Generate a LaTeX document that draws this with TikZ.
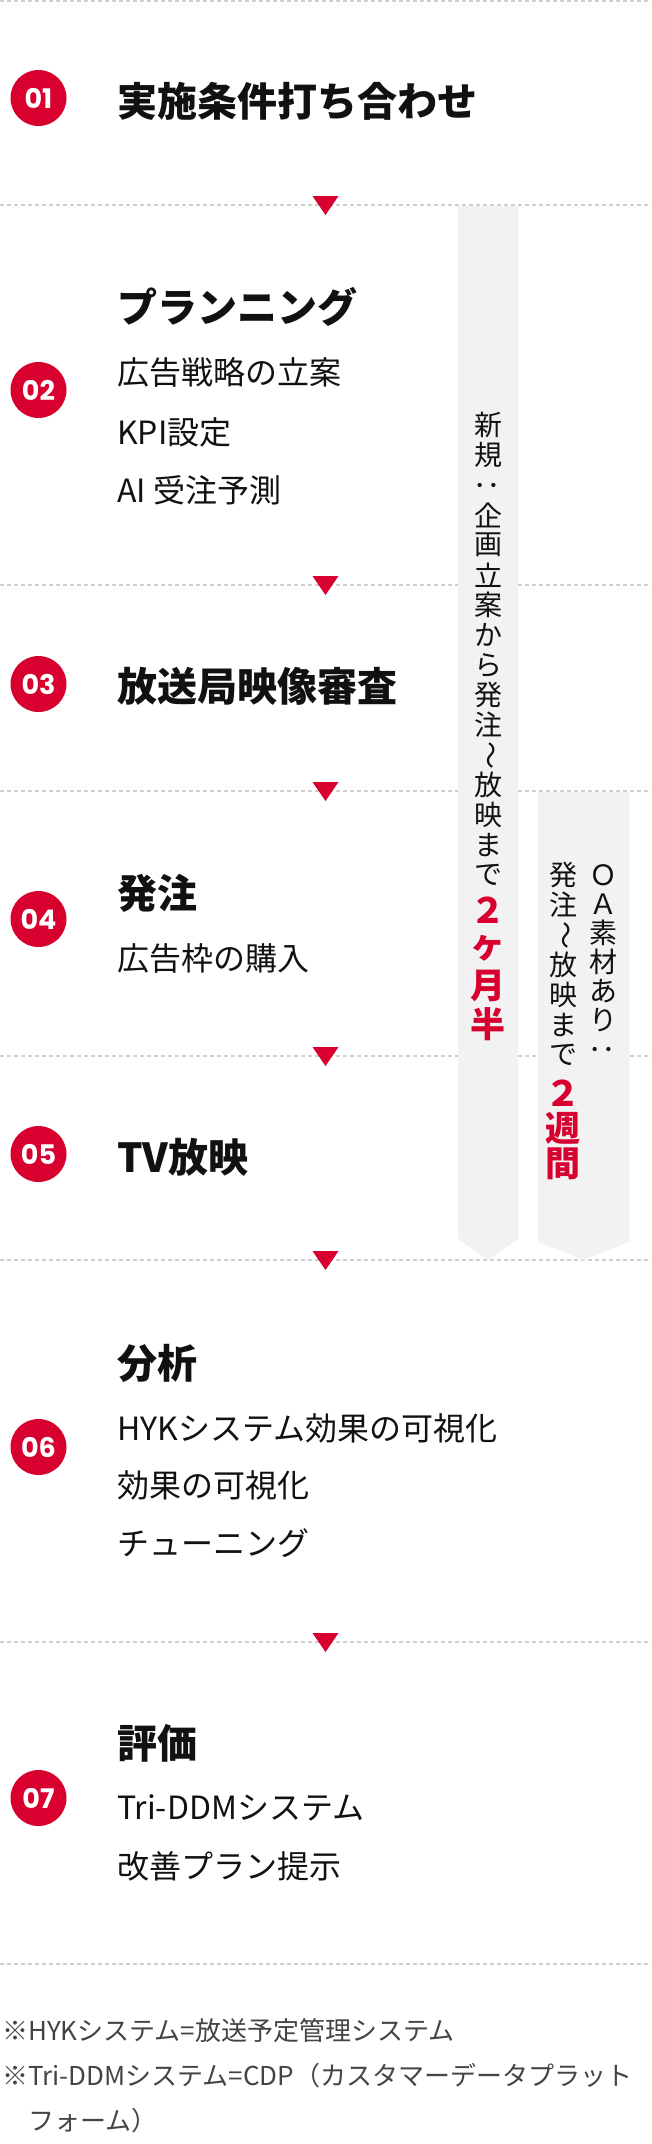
\documentclass[tikz,border=0pt]{standalone}
\usepackage{fontspec}
\usepackage{graphicx}
\setmainfont{Noto Sans CJK JP}
\newfontfamily\numfont{Poppins}
\definecolor{crim}{HTML}{D7002E}
\definecolor{lgray}{HTML}{CFCFCF}
\definecolor{band}{HTML}{F2F2F2}
\definecolor{ink}{HTML}{111111}
\definecolor{notec}{HTML}{444444}
\begin{document}
\begin{tikzpicture}[x=1pt,y=-1pt,
  badge/.style={circle, fill=crim, minimum size=56pt, inner sep=0pt, text=white,
    font=\numfont\bfseries\fontsize{27}{27}\selectfont},
  steptitle/.style={anchor=west, inner sep=0pt, text=ink,
    font=\bfseries\fontsize{40}{40}\selectfont},
  stepitem/.style={anchor=west, inner sep=0pt, text=ink,
    font=\fontsize{32}{32}\selectfont},
  vch/.style={inner sep=0pt, text=ink, font=\fontsize{28}{28}\selectfont},
  vred/.style={inner sep=0pt, text=crim, font=\bfseries\fontsize{35}{35}\selectfont},
  sepline/.style={draw=lgray, line width=1.5pt, dash pattern=on 4pt off 3pt},
  fnote/.style={anchor=west, inner sep=0pt, text=notec,
    font=\fontsize{26}{26}\selectfont}]
\useasboundingbox (0,0) rectangle (651,2144);
\fill[white] (0,0) rectangle (651,2144);
% separators
\foreach \y in {1,205,585,791,1056,1260,1642,1964}
  \draw[sepline] (0,\y) -- (651,\y);
% banners
\fill[band] (458,206) -- (518,206) -- (518,1239) -- (488,1260) -- (458,1239) -- cycle;
\fill[band] (538,792) -- (629,792) -- (629,1242) -- (583.5,1260) -- (538,1242) -- cycle;
% step triangles
\foreach \y in {205,585,791,1056,1260,1642}
  \fill[crim] (312.5,\y-9) -- (338.5,\y-9) -- (325.5,\y+10) -- cycle;
% badges
\node[badge] (b1) at (38.5,98) {01};
\node[badge] (b2) at (38.5,390) {02};
\node[badge] (b3) at (38.5,684) {03};
\node[badge] (b4) at (38.5,919) {04};
\node[badge] (b5) at (38.5,1154) {05};
\node[badge] (b6) at (38.5,1447) {06};
\node[badge] (b7) at (38.5,1798) {07};
% titles
\node[steptitle] (t1) at (117,101) {実施条件打ち合わせ};
\node[steptitle] (t2) at (117,307) {プランニング};
\node[steptitle] (t3) at (117,686) {放送局映像審査};
\node[steptitle] (t4) at (117,893) {発注};
\node[steptitle] (t5) at (117,1157) {TV放映};
\node[steptitle] (t6) at (117,1363) {分析};
\node[steptitle] (t7) at (117,1743) {評価};
% items
\node[stepitem] (i21) at (117,372) {広告戦略の立案};
\node[stepitem] (i22) at (117,432) {KPI設定};
\node[stepitem] (i23) at (117,490) {AI 受注予測};
\node[stepitem] (i41) at (117,958) {広告枠の購入};
\node[stepitem] (i61) at (117,1428) {HYKシステム効果の可視化};
\node[stepitem] (i62) at (117,1485) {効果の可視化};
\node[stepitem] (i63) at (117,1543) {チューニング};
\node[stepitem] (i71) at (117,1808) {Tri-DDMシステム};
\node[stepitem] (i72) at (117,1866) {改善プラン提示};
% vertical text, left banner
\foreach \c [count=\i from 0] in {新,規,{\rotatebox{90}{：}},企,画,立,案,か,ら,発,注,{\rotatebox{-90}{〜}},放,映,ま,で}
  \node[vch] (la\i) at (488,425+30*\i) {\c};
\foreach \c [count=\i from 0] in {２,ヶ,月,半}
  \node[vred] (lb\i) at (488,910+38*\i) {\c};
% vertical text, right banner
\foreach \c [count=\i from 0] in {Ｏ,Ａ,素,材,あ,り,{\rotatebox{90}{：}}}
  \node[vch] (ra\i) at (603,875+29*\i) {\c};
\foreach \c [count=\i from 0] in {発,注,{\rotatebox{-90}{〜}},放,映,ま,で}
  \node[vch] (rb\i) at (563,875+30*\i) {\c};
\foreach \c [count=\i from 0] in {２,週,間}
  \node[vred] (rc\i) at (563,1093+35.5*\i) {\c};
% footnotes
\node[fnote] (n1) at (2,2031) {※HYKシステム=放送予定管理システム};
\node[fnote] (n2) at (2,2076) {※Tri-DDMシステム=CDP（カスタマーデータプラット};
\node[fnote] (n3) at (28,2121) {フォーム）};
\end{tikzpicture}
\end{document}
